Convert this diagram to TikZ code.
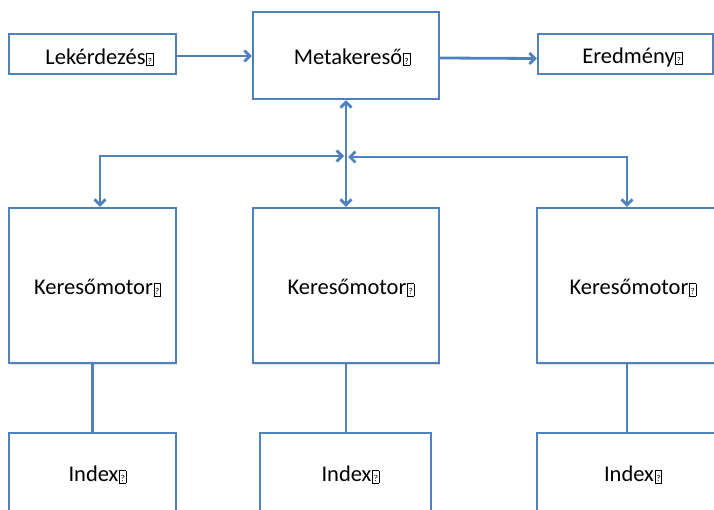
\documentclass[tikz,border=0pt]{standalone}
\usepackage{fontspec}
\setmainfont{Carlito}
\usetikzlibrary{arrows.meta,shadows}
\definecolor{obl}{RGB}{79,129,189}
\newcommand\qb{\kern0.8pt{\setlength{\fboxsep}{0.8pt}\setlength{\fboxrule}{0.7pt}\fbox{\rule{0pt}{10pt}\fontsize{9}{9}\selectfont ?}}}
\tikzset{
  box/.style={draw=obl, line width=2.4pt, fill=white, rectangle, inner sep=0pt,
    font=\fontsize{22.5}{26}\selectfont, text=black,
    drop shadow={shadow xshift=1.2pt, shadow yshift=-1.5pt, fill=black, opacity=0.12}},
  tpos/.style={text height=#1, text depth=1.5pt},
  conn/.style={draw=obl, line width=2.8pt},
  tip/.style={-{Straight Barb[length=5.5pt,width=11pt]}},
  tips/.style={{Straight Barb[length=5.5pt,width=11pt]}-{Straight Barb[length=5.5pt,width=11pt]}}
}
\begin{document}
\begin{tikzpicture}[x=1pt,y=-1pt]
\useasboundingbox (0,0) rectangle (714,510);
\clip (0,0) rectangle (714,510);
\node[box, tpos=22pt, minimum width=167pt, minimum height=40pt] (lek) at (92.5,54) {\hspace*{14pt}Lekérdezés\qb};
\node[box, tpos=19pt, minimum width=186pt, minimum height=87pt] (meta) at (346,55.5) {\hspace*{12pt}Metakereső\qb};
\node[box, tpos=20.5pt, minimum width=175pt, minimum height=40pt] (ered) at (625.5,54) {\hspace*{14pt}Eredmény\qb};
\node[box, tpos=20pt, minimum width=167pt, minimum height=155pt] (k1) at (92.5,285.5) {\hspace*{10pt}Keresőmotor\qb};
\node[box, tpos=20pt, minimum width=186pt, minimum height=155pt] (k2) at (346,285.5) {\hspace*{10pt}Keresőmotor\qb};
\node[box, tpos=20pt, minimum width=180pt, minimum height=155pt] (k3) at (627,285.5) {\hspace*{12pt}Keresőmotor\qb};
\node[box, tpos=12pt, minimum width=167pt, minimum height=87pt] (i1) at (92.5,476.5) {\hspace*{10pt}Index\qb};
\node[box, tpos=12pt, minimum width=171pt, minimum height=87pt] (i2) at (345.5,476.5) {\hspace*{10pt}Index\qb};
\node[box, tpos=12pt, minimum width=180pt, minimum height=87pt] (i3) at (627,476.5) {\hspace*{12pt}Index\qb};
\coordinate (J) at (346,156);
\draw[conn, tip] ([yshift=-2pt]lek.east) -- ([yshift=-2pt]lek.east -| meta.west);
\draw[conn, tip] ([yshift=-2.5pt]meta.east) -- ([yshift=-4.5pt]ered.west);
\draw[conn, tips] (meta.south) -- (k2.north);
\draw[conn, tips] ([xshift=7.5pt]k1.north) |- ([xshift=-2pt]J);
\draw[conn, tips] (k3.north) |- ([xshift=2pt,yshift=-1pt]J);
\draw[conn] (k1.south) -- (i1.north -| k1.south);
\draw[conn] (k2.south) -- (i2.north -| k2.south);
\draw[conn] (k3.south) -- (i3.north -| k3.south);
\end{tikzpicture}
\end{document}
